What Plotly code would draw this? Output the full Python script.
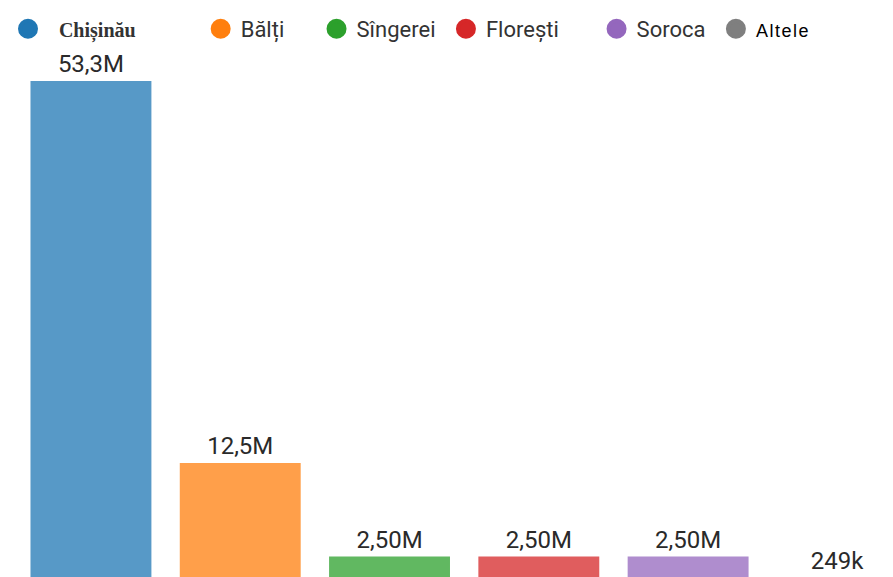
import plotly.graph_objects as go

categories = ["Chișinău", "Bălți", "Sîngerei", "Florești", "Soroca", "Altele"]
values = [53.3e6, 12.5e6, 2.5e6, 2.5e6, 2.5e6, 249e3]
colors = ["#1f77b4", "#ff7f0e", "#2ca02c", "#d62728", "#9467bd", "#7f7f7f"]

# legend styling (spacing via non-breaking spaces, per-entry font markup)
NB = "\u00a0"
lead_pad = [2, 0, 0, 0, 0, 0]
trail_pad = [11, 5, 1, 6, 1, 0]
label_style = [
    "<span style='font-family:Liberation Serif;font-size:20px;font-weight:bold'>{}</span>",
    "{}", "{}", "{}", "{}",
    "<span style='font-family:Liberation Sans;font-size:18px;color:#000000;letter-spacing:1.5px'>{}</span>",
]

fig = go.Figure()

for cat, val, col in zip(categories, values, colors):
    fig.add_trace(go.Bar(
        x=[cat], y=[val],
        marker=dict(color=col, opacity=0.75, line=dict(width=0)),
        width=0.81,
        texttemplate="%{y:.3s}",
        textposition="outside",
        cliponaxis=False,
        textfont=dict(family="Roboto", size=24, color="#2a2a2a"),
        showlegend=False,
        hoverinfo="skip",
    ))

for cat, col, lp, tp, st in zip(categories, colors, lead_pad, trail_pad, label_style):
    fig.add_trace(go.Scatter(
        x=[None], y=[None], mode="markers",
        name=NB * lp + st.format(cat) + NB * tp,
        marker=dict(symbol="circle", size=16, color=col, line=dict(width=4, color=col)),
        showlegend=True,
    ))

fig.update_layout(
    width=893, height=577,
    margin=dict(l=8, r=0, t=0, b=0, autoexpand=False),
    paper_bgcolor="white", plot_bgcolor="white",
    barmode="overlay",
    separators=", ",
    xaxis=dict(visible=False, type="category", range=[-0.502, 5.426]),
    yaxis=dict(visible=False, range=[-0.534e6, 61.11e6]),
    legend=dict(orientation="h", x=0, y=1, xanchor="left", yanchor="top",
                xref="container", yref="container",
                font=dict(family="Roboto", size=22, color="#333333"),
                itemsizing="trace", bgcolor="rgba(0,0,0,0)"),
    showlegend=True,
)

fig.write_html("out.html")
